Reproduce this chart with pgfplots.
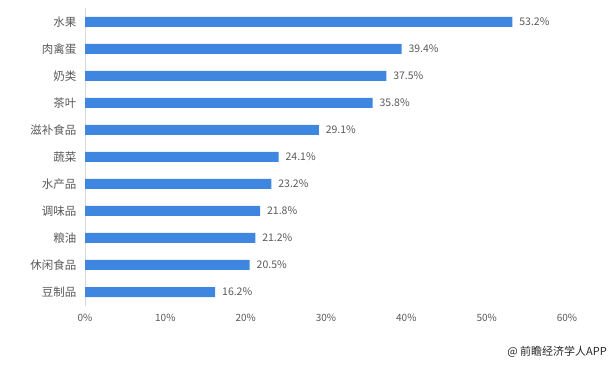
\documentclass[border=0pt]{standalone}
\usepackage{fontspec}
\setmainfont{Noto Sans CJK SC}
\usepackage{pgfplots}
\pgfplotsset{compat=1.18}
\definecolor{barblue}{RGB}{62,134,224}
\definecolor{txtgray}{RGB}{89,89,89}
\definecolor{axgray}{RGB}{217,217,217}
\begin{document}
\begin{tikzpicture}
\path[use as bounding box] (0pt,0pt) rectangle (613pt,367pt);
\begin{axis}[
  at={(85pt,61.5pt)}, anchor=south west,
  scale only axis, width=482pt, height=297pt,
  xbar, bar width=10pt,
  xmin=0, xmax=60, ymin=-0.5, ymax=10.5,
  axis lines*=left,
  x axis line style={draw=none},
  y axis line style={draw=axgray, line width=0.8pt},
  major tick length=0pt,
  xtick={0,10,...,60},
  xticklabel={\pgfmathprintnumber{\tick}\%},
  /pgf/number format/assume math mode=true,
  xticklabel style={font=\fontsize{10}{12}\selectfont, color=txtgray, yshift=-5pt},
  ytick={0,...,10},
  yticklabels={豆制品,休闲食品,粮油,调味品,水产品,蔬菜,滋补食品,茶叶,奶类,肉禽蛋,水果},
  yticklabel style={font=\fontsize{11.5}{13}\selectfont, color=txtgray, xshift=-5pt},
  point meta=x,
  nodes near coords={\pgfmathprintnumber[fixed,precision=1,fixed zerofill]{\pgfplotspointmeta}\%},
  every node near coord/.append style={font=\fontsize{10.5}{12}\selectfont, color=txtgray, xshift=3.5pt},
  clip=false,
]
\addplot[fill=barblue, draw=none] coordinates {
 (16.2,0) (20.5,1) (21.2,2) (21.8,3) (23.2,4) (24.1,5) (29.1,6) (35.8,7) (37.5,8) (39.4,9) (53.2,10)
};
\end{axis}
\node[anchor=east, font=\fontsize{11}{13}\selectfont, text=black!85, inner sep=0pt] at (607pt,15pt) {@ 前瞻经济学人APP};
\end{tikzpicture}
\end{document}
